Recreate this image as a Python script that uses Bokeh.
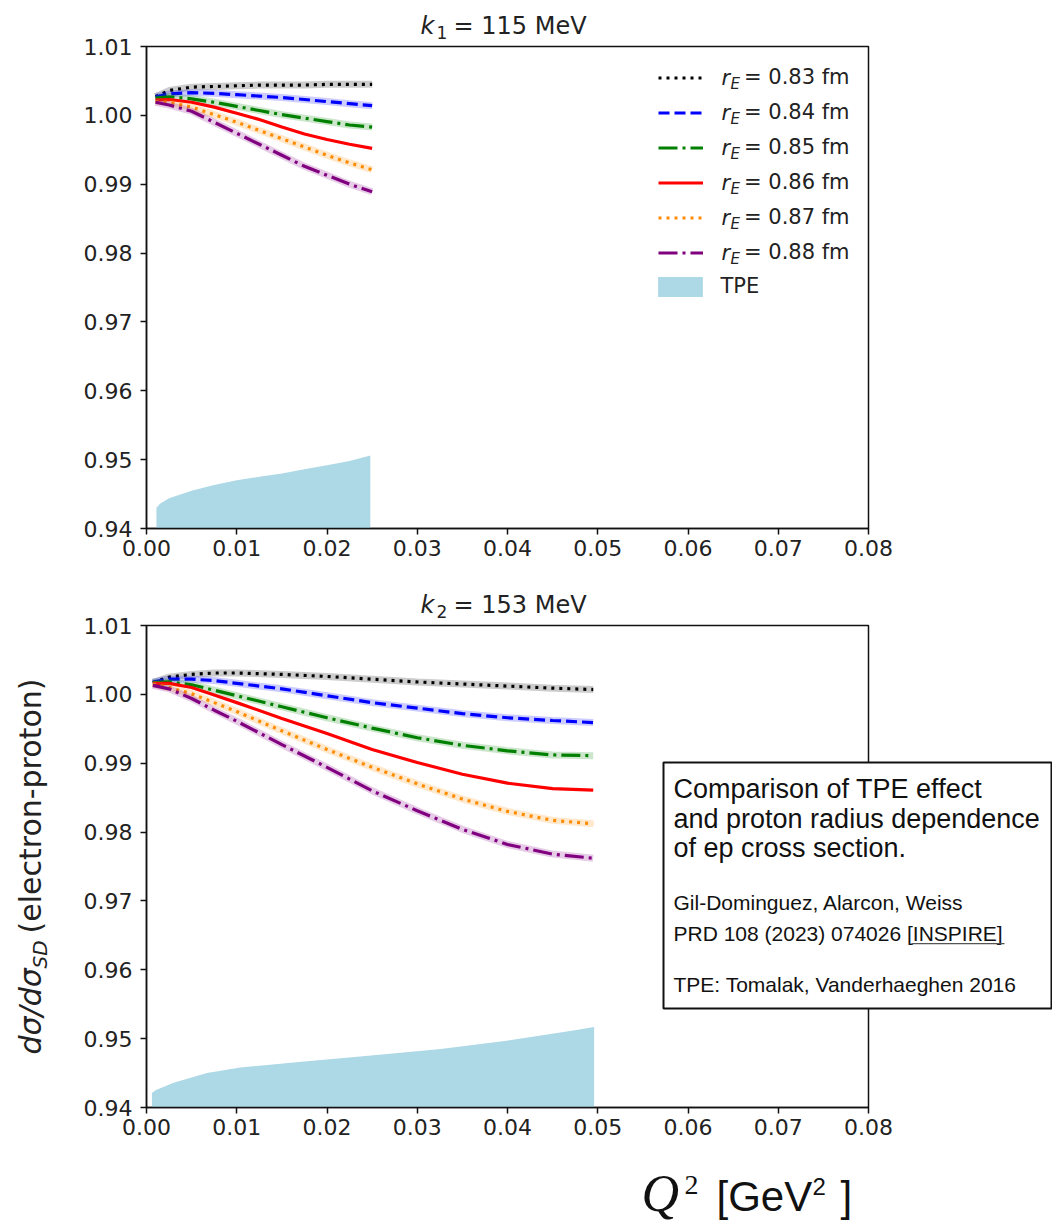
import math
from bokeh.plotting import figure
from bokeh.models import (Range1d, FixedTicker, NumeralTickFormatter, Legend, LegendItem,
                          Label, BoxAnnotation, GridBox)
from bokeh.embed import file_html
from bokeh.resources import INLINE

# ---------------- data ----------------
x_ticks = [0.00, 0.01, 0.02, 0.03, 0.04, 0.05, 0.06, 0.07, 0.08]
y_ticks = [0.94, 0.95, 0.96, 0.97, 0.98, 0.99, 1.00, 1.01]

radius_labels = ["0.83", "0.84", "0.85", "0.86", "0.87", "0.88"]

# k1 = 115 MeV
q2_k1 = [0.001, 0.0025, 0.005, 0.0075, 0.01, 0.0125, 0.015, 0.0175, 0.02, 0.0225, 0.025]
k1_r083 = [1.0027, 1.0036, 1.0041, 1.0042, 1.0043, 1.0044, 1.0044, 1.0044, 1.0045, 1.0045, 1.0045]
k1_r084 = [1.0027, 1.0031, 1.0033, 1.0032, 1.0030, 1.0028, 1.0026, 1.0023, 1.0020, 1.0017, 1.0014]
k1_r085 = [1.0025, 1.0027, 1.0024, 1.0019, 1.0013, 1.0007, 1.0001, 0.9996, 0.9991, 0.9986, 0.9983]
k1_r086 = [1.0022, 1.0023, 1.0019, 1.0012, 1.0003, 0.9994, 0.9983, 0.9973, 0.9965, 0.9958, 0.9952]
k1_r087 = [1.0020, 1.0019, 1.0012, 1.0001, 0.9990, 0.9978, 0.9966, 0.9954, 0.9942, 0.9931, 0.9921]
k1_r088 = [1.0019, 1.0015, 1.0006, 0.9990, 0.9974, 0.9958, 0.9942, 0.9926, 0.9913, 0.9900, 0.9889]
tpe_q2_k1 = [0.0011, 0.0015, 0.0025, 0.005, 0.0075, 0.01, 0.0125, 0.015, 0.0175, 0.02, 0.0225, 0.0248]
tpe_k1 = [0.9430, 0.9436, 0.9444, 0.9455, 0.9463, 0.9470, 0.9475, 0.9480, 0.9486, 0.9492, 0.9498, 0.9506]

# k2 = 153 MeV
q2_k2 = [0.0007, 0.0025, 0.005, 0.0075, 0.01, 0.015, 0.02, 0.025, 0.03, 0.035, 0.04, 0.045, 0.0495]
k2_r083 = [1.0017, 1.0025, 1.0029, 1.0031, 1.0031, 1.0029, 1.0026, 1.0022, 1.0018, 1.0015, 1.0012, 1.0009, 1.0007]
k2_r084 = [1.0018, 1.0022, 1.0022, 1.0020, 1.0016, 1.0008, 0.9998, 0.9988, 0.9980, 0.9972, 0.9966, 0.9962, 0.9959]
k2_r085 = [1.0017, 1.0018, 1.0014, 1.0006, 0.9998, 0.9982, 0.9966, 0.9951, 0.9937, 0.9926, 0.9918, 0.9912, 0.9911]
k2_r086 = [1.0016, 1.0016, 1.0010, 0.9999, 0.9988, 0.9965, 0.9943, 0.9920, 0.9901, 0.9884, 0.9871, 0.9863, 0.9861]
k2_r087 = [1.0015, 1.0010, 1.0001, 0.9988, 0.9975, 0.9947, 0.9920, 0.9894, 0.9870, 0.9848, 0.9830, 0.9817, 0.9812]
k2_r088 = [1.0013, 1.0008, 0.9994, 0.9977, 0.9961, 0.9927, 0.9894, 0.9860, 0.9831, 0.9804, 0.9782, 0.9768, 0.9762]
tpe_q2_k2 = [0.0006, 0.001, 0.003, 0.0067, 0.0104, 0.0178, 0.0252, 0.0326, 0.0399, 0.0473, 0.0496]
tpe_k2 = [0.9421, 0.9425, 0.9436, 0.9450, 0.9458, 0.9467, 0.9476, 0.9485, 0.9497, 0.9512, 0.9517]

tpe_base = 0.94

# ---------------- styles ----------------
colors = ["black", "#0000ff", "#008000", "#ff0000", "#ff8c00", "#800080"]
dashes = ["3 5", "11 5", "19 5 3 5", "solid", "3 5", "19 5 3 5"]
halo = [True, True, True, False, True, True]
TXT = "#222222"

FL = 146          # frame left (canvas px)
FR = 868          # frame right
W = 1052
H = 1223


def make_fig(height, top, bottom):
    p = figure(width=W, height=height, output_backend="svg", toolbar_location=None,
               x_range=Range1d(0, 0.08), y_range=Range1d(0.94, 1.01),
               min_border_left=FL, min_border_right=W - FR,
               min_border_top=top, min_border_bottom=bottom)
    p.xgrid.visible = False
    p.ygrid.visible = False
    p.background_fill_color = "white"
    p.border_fill_color = "white"
    p.outline_line_color = "#111111"
    p.outline_line_width = 1.5
    p.outline_line_alpha = 1
    for ax, ticks in ((p.xaxis, x_ticks), (p.yaxis, y_ticks)):
        ax.ticker = FixedTicker(ticks=ticks)
        ax.formatter = NumeralTickFormatter(format="0.00")
        ax.major_tick_out = 6
        ax.major_tick_in = 0
        ax.minor_tick_line_color = None
        ax.major_tick_line_color = "#111111"
        ax.major_tick_line_width = 1.5
        ax.axis_line_color = "#111111"
        ax.axis_line_width = 1.5
        ax.major_label_text_font = "DejaVu Sans"
        ax.major_label_text_font_size = "22px"
        ax.major_label_text_color = TXT
    p.xaxis.major_label_standoff = 5
    p.yaxis.major_label_standoff = 8
    return p


def frame_label(p, B, X, Y, text, size, style="normal", baseline="alphabetic"):
    p.add_layout(Label(x=X - FL, y=B - Y, x_units="screen", y_units="screen",
                       text=text, text_font="DejaVu Sans", text_font_size=f"{size}px",
                       text_font_style=style, text_align="left",
                       text_baseline=baseline, text_color=TXT))


def draw_panel(p, q2, series, tq2, tpe):
    t = p.varea(x=tq2, y1=tpe_base, y2=tpe, fill_color="#add8e6", fill_alpha=1)
    rs = []
    for ys, c, d, h in zip(series, colors, dashes, halo):
        if h:
            p.line(q2, ys, line_color=c, line_alpha=0.2, line_width=7)
        rs.append(p.line(q2, ys, line_color=c, line_width=3.2, line_dash=d))
    return rs, t


# ---------------- top panel ----------------
TOP_H = 580
B1 = 528
top = make_fig(TOP_H, 46, TOP_H - B1)
rs1, t1 = draw_panel(top, q2_k1, [k1_r083, k1_r084, k1_r085, k1_r086, k1_r087, k1_r088],
                     tpe_q2_k1, tpe_k1)

row0 = 77
rowh = 35
items = [LegendItem(label=f"= {lab} fm", renderers=[r]) for lab, r in zip(radius_labels, rs1)]
leg = Legend(items=items, location=(658 - FL, B1 - (row0 - rowh / 2 + rowh * 6)),
             glyph_width=45, glyph_height=rowh, label_height=rowh, label_standoff=41,
             spacing=0, padding=0, margin=0, border_line_color=None,
             background_fill_alpha=0, label_text_font="DejaVu Sans",
             label_text_font_size="21px", label_text_color=TXT)
top.add_layout(leg)
for i in range(6):
    cy = row0 + rowh * i
    frame_label(top, B1, 721, cy, "r", 21, style="italic", baseline="middle")
    frame_label(top, B1, 730, cy + 6, "E", 15, style="italic", baseline="middle")

leg2 = Legend(items=[LegendItem(label="TPE", renderers=[t1])],
              location=(652.4 - FL, B1 - (286 + 12.5)),
              glyph_width=56, glyph_height=25, label_height=25, label_standoff=12,
              spacing=0, padding=0, margin=0, border_line_color=None,
              background_fill_alpha=0, label_text_font="DejaVu Sans",
              label_text_font_size="21px", label_text_color=TXT)
top.add_layout(leg2)

# ---------------- bottom panel ----------------
BOT_H = H - TOP_H
B2 = 1107
bot = make_fig(BOT_H, 625 - TOP_H, H - B2)
rs2, t2 = draw_panel(bot, q2_k2, [k2_r083, k2_r084, k2_r085, k2_r086, k2_r087, k2_r088],
                     tpe_q2_k2, tpe_k2)

# ---------------- transparent overlay for surrounding texts ----------------
ov = figure(width=W, height=H, output_backend="svg", toolbar_location=None,
            x_range=Range1d(0, W), y_range=Range1d(H, 0),
            x_axis_type=None, y_axis_type=None,
            min_border_left=0, min_border_right=0, min_border_top=0, min_border_bottom=0)
ov.frame_align = False
ov.xgrid.visible = False
ov.ygrid.visible = False
ov.outline_line_color = None
ov.background_fill_alpha = 0
ov.border_fill_alpha = 0

SHIFT = 0.35   # em offset between requested and drawn baseline on this canvas


def txt(X, Y, text, size, font="DejaVu Sans", style="normal", angle=0.0,
        color=TXT):
    if angle:
        X = X - SHIFT * size
    else:
        Y = Y - SHIFT * size
    ov.add_layout(Label(x=X, y=Y, text=text, text_font=font, text_font_size=f"{size}px",
                        text_font_style=style, text_align="left", text_baseline="alphabetic",
                        angle=angle, text_color=color))


# titles
txt(420, 33.5, "k", 24, style="italic")
txt(436, 38, "1", 17)
txt(453, 33.5, "= 115 MeV", 24)
txt(420, 612.5, "k", 24, style="italic")
txt(436, 617, "2", 17)
txt(453, 612.5, "= 153 MeV", 24)

# y-axis label (rotated, composed)
ang = math.pi / 2
y0 = 1054
txt(40, y0, "dσ/dσ", 30, style="italic", angle=ang)
txt(46, y0 - 86, "SD", 20, style="italic", angle=ang)
txt(40, y0 - 86 - 35, "(electron-proton)", 30, angle=ang)

# x-axis label
txt(641, 1211, "Q", 52, font="Liberation Serif", style="italic", color="#111111")
txt(684, 1194, "2", 28, font="Liberation Serif", color="#111111")
txt(716, 1211, "[GeV", 42, font="Liberation Sans", color="#111111")
txt(812, 1194, "2", 24, font="Liberation Sans", color="#111111")
txt(840, 1211, "]", 42, font="Liberation Sans", color="#111111")

# text box
ov.add_layout(BoxAnnotation(left=663, right=1051, top=762, bottom=1008,
                            fill_color="white", fill_alpha=1,
                            line_color="#111111", line_width=2, line_alpha=1))
big = ["Comparison of TPE effect", "and proton radius dependence", "of ep cross section."]
for t_, by in zip(big, [798, 827.5, 857]):
    txt(673, by, t_, 27, font="Liberation Sans", color="#111111")
small = ["Gil-Dominguez, Alarcon, Weiss", "PRD 108 (2023) 074026 [INSPIRE]",
         "TPE: Tomalak, Vanderhaeghen 2016"]
for t_, by in zip(small, [909, 940, 991.5]):
    txt(673, by, t_, 21, font="Liberation Sans", color="#111111")
ov.add_layout(BoxAnnotation(left=911, right=1004, top=942.5, bottom=943.7,
                            fill_color="#555555", fill_alpha=1, line_color=None))

layout = GridBox(children=[(top, 0, 0), (bot, 1, 0), (ov, 0, 0, 2, 1)], spacing=0)
open("out.html", "w").write(file_html(layout, INLINE))
